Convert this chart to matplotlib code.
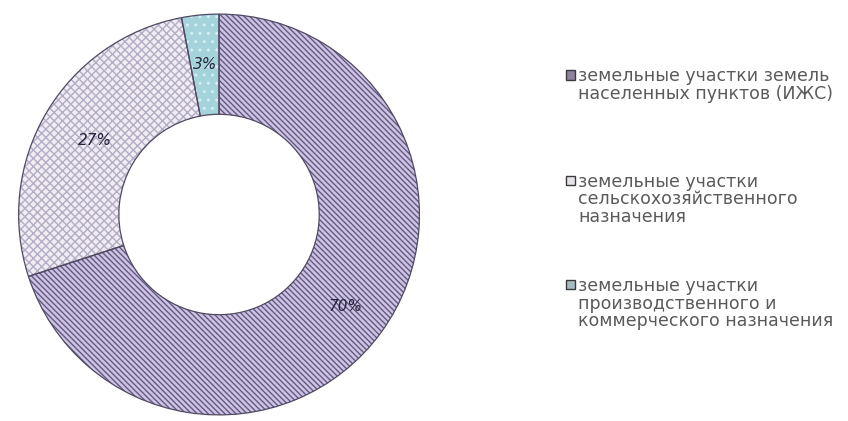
import matplotlib
matplotlib.use("Agg")
import matplotlib.pyplot as plt
from matplotlib.patches import Rectangle
import numpy as np

# land plot categories and their shares, %
labels = [
    "земельные участки земель\nнаселенных пунктов (ИЖС)",
    "земельные участки\nсельскохозяйственного\nназначения",
    "земельные участки\nпроизводственного и\nкоммерческого назначения",
]
shares = [70, 27, 3]
pct_labels = ["70%", "27%", "3%"]

face = ["#cdc5df", "#efecf4", "#a4d3dc"]
hatch_col = ["#64588a", "#b4adc4", "#d4eef2"]
hatches = ["\\\\\\\\\\\\", "xxxx", ".."]
legend_face = ["#8c819f", "#e6e2ec", "#a9bcc4"]

plt.rcParams["hatch.linewidth"] = 1.0

fig = plt.figure(figsize=(8.48, 4.21), dpi=100)
ax = fig.add_axes([0.0218, 0.0145, 0.473, 0.952])

wedges, _ = ax.pie(shares, startangle=90, counterclock=False, radius=1.0,
                   wedgeprops=dict(width=0.5, linewidth=0))
for w, fc, hc, h in zip(wedges, face, hatch_col, hatches):
    w.set_facecolor(fc)
    w.set_edgecolor(hc)
    w.set_hatch(h)

# outlines drawn on top so the hatch colour doesn't affect them
ax.pie(shares, startangle=90, counterclock=False, radius=1.0,
       wedgeprops=dict(width=0.5, facecolor="none",
                       edgecolor="#4f4a62", linewidth=0.9))

# percentage labels inside the ring
start = 90.0
for v, txt in zip(shares, pct_labels):
    mid = np.deg2rad(start - v * 360 / 100 / 2)
    start -= v * 360 / 100
    r = 0.78 if v != 3 else 0.75
    dx, dy = (0.05, -0.03) if v == 27 else (0, 0)
    ax.text(r * np.cos(mid) + dx, r * np.sin(mid) + dy,
            txt, ha="center", va="center", fontsize=11,
            style="italic", color="#26243d")

ax.set_xlim(-1.0, 1.0)
ax.set_ylim(-1.0, 1.0)
ax.set_aspect("equal")
ax.axis("off")

# legend on the right
ys = [0.822, 0.572, 0.324]
for lab, fc, y in zip(labels, legend_face, ys):
    fig.patches.append(Rectangle((0.668, y - 0.011), 0.0095, 0.022,
                                 transform=fig.transFigure, facecolor=fc,
                                 edgecolor="#3a3a3a", linewidth=1.0))
    fig.text(0.682, y + 0.018, lab, ha="left", va="top", fontsize=12.5,
             color="#5a5a5a", linespacing=0.98)

fig.savefig("out.png", dpi=100)
